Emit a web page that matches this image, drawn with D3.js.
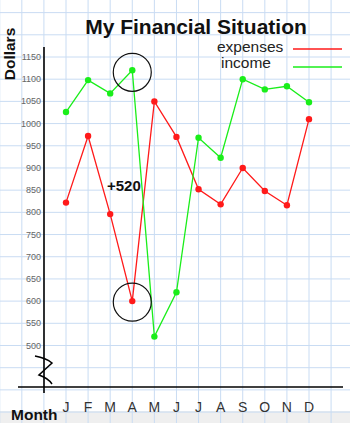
<!DOCTYPE html>
<html>
<head>
<meta charset="utf-8">
<script src="https://cdn.jsdelivr.net/npm/d3@7"></script>
<style>
  body { margin: 0; background: #fff; }
  svg { display: block; font-family: "Liberation Sans", Arial, sans-serif; }
</style>
</head>
<body>
<svg id="chart" width="350" height="423"></svg>
<script>
// chart data
var months = ["J", "F", "M", "A", "M", "J", "J", "A", "S", "O", "N", "D"];
var expenses = [822, 972, 796, 600, 1050, 970, 852, 818, 900, 848, 816, 1010];
var income = [1026, 1098, 1068, 1120, 520, 620, 968, 923, 1100, 1077, 1084, 1048];
var yTicks = [500, 550, 600, 650, 700, 750, 800, 850, 900, 950, 1000, 1050, 1100, 1150];

var svg = d3.select("#chart");
var W = 350, H = 423;

// scales - grid spacing follows 50 dollars per square
var x = d3.scalePoint().domain(d3.range(12)).range([66, 309]);
var y = d3.scaleLinear().domain([500, 1150]).range([345.5, 57]);
var step = x(1) - x(0);
var ystep = y(1100) - y(1150);

// grey strip at the bottom
svg.append("rect")
    .attr("x", 0).attr("y", 411).attr("width", W).attr("height", H - 411)
    .attr("fill", "#efefef");

// graph paper
var grid = svg.append("g").attr("id", "grid");
var gx = d3.range(x(0) - 3 * step, W + step, step);
grid.selectAll("line.v")
    .data(gx)
    .enter()
    .append("line")
    .attr("class", "v")
    .attr("x1", function(d) { return d; })
    .attr("x2", function(d) { return d; })
    .attr("y1", 0).attr("y2", H)
    .attr("stroke", "#c9dcf3").attr("stroke-width", 1);
var gy = d3.range(y(1150) - 3 * ystep, H + ystep, ystep);
grid.selectAll("line.h")
    .data(gy)
    .enter()
    .append("line")
    .attr("class", "h")
    .attr("y1", function(d) { return d; })
    .attr("y2", function(d) { return d; })
    .attr("x1", 0).attr("x2", W)
    .attr("stroke", "#c9dcf3").attr("stroke-width", 1);

// title
svg.append("text")
    .attr("x", 196).attr("y", 34)
    .attr("text-anchor", "middle")
    .attr("font-size", 21).attr("font-weight", "bold")
    .attr("fill", "#111")
    .text("My Financial Situation");

// legend
var legend = [
    {name: "expenses", color: "#ff1a1a", tx: 217, ty: 52, ly: 49},
    {name: "income", color: "#1aee1a", tx: 221, ty: 68, ly: 67}
];
legend.forEach(function(l) {
    svg.append("text")
        .attr("x", l.tx).attr("y", l.ty)
        .attr("font-size", 15.5).attr("fill", "#222")
        .text(l.name);
    svg.append("line")
        .attr("x1", 293).attr("x2", 342)
        .attr("y1", l.ly).attr("y2", l.ly)
        .attr("stroke", l.color).attr("stroke-width", 1.3);
});

// y axis
svg.append("line")
    .attr("x1", 44).attr("x2", 44).attr("y1", 47).attr("y2", 393)
    .attr("stroke", "#000").attr("stroke-width", 1.6);
svg.append("g")
    .selectAll("text")
    .data(yTicks)
    .enter()
    .append("text")
    .attr("x", 41)
    .attr("y", function(d) { return y(d) + 3; })
    .attr("text-anchor", "end")
    .attr("font-size", 9).attr("fill", "#666")
    .text(function(d) { return d; });

// x axis
svg.append("line")
    .attr("x1", 18).attr("x2", 343).attr("y1", 387).attr("y2", 387)
    .attr("stroke", "#000").attr("stroke-width", 1.4);
svg.append("g")
    .selectAll("text")
    .data(months)
    .enter()
    .append("text")
    .attr("x", function(d, i) { return x(i); })
    .attr("y", 412)
    .attr("text-anchor", "middle")
    .attr("font-size", 14).attr("fill", "#333")
    .text(function(d) { return d; });

// axis break squiggle
svg.append("path")
    .attr("d", "M35,356 Q46,358 52,363 L39,375 Q48,378 52,384")
    .attr("fill", "none").attr("stroke", "#000").attr("stroke-width", 1.5);

// axis titles
svg.append("text")
    .attr("transform", "translate(15,54) rotate(-90)")
    .attr("text-anchor", "middle")
    .attr("font-size", 15.5).attr("font-weight", "bold")
    .attr("fill", "#111")
    .text("Dollars");
svg.append("text")
    .attr("x", 11).attr("y", 420)
    .attr("font-size", 15.5).attr("font-weight", "bold")
    .attr("fill", "#111")
    .text("Month");

// series
var line = d3.line()
    .x(function(d, i) { return x(i); })
    .y(function(d) { return y(d); });

var drawSeries = function(data, color) {
    var g = svg.append("g");
    g.append("path")
        .datum(data)
        .attr("d", line)
        .attr("fill", "none")
        .attr("stroke", color)
        .attr("stroke-width", 1.3);
    g.selectAll("circle")
        .data(data)
        .enter()
        .append("circle")
        .attr("cx", function(d, i) { return x(i); })
        .attr("cy", function(d) { return y(d); })
        .attr("r", 3.2)
        .attr("fill", color);
};
drawSeries(expenses, "#ff1a1a");
drawSeries(income, "#1aee1a");

// annotation circles on April
svg.append("circle")
    .attr("cx", x(3)).attr("cy", y(income[3]) + 2).attr("r", 19)
    .attr("fill", "none").attr("stroke", "#111").attr("stroke-width", 1.2);
svg.append("circle")
    .attr("cx", x(3)).attr("cy", y(expenses[3]) + 1).attr("r", 19)
    .attr("fill", "none").attr("stroke", "#111").attr("stroke-width", 1.2);

svg.append("text")
    .attr("x", 107).attr("y", 191)
    .attr("font-size", 15).attr("font-weight", "bold")
    .attr("fill", "#111")
    .text("+" + (income[3] - expenses[3]));
</script>
</body>
</html>
